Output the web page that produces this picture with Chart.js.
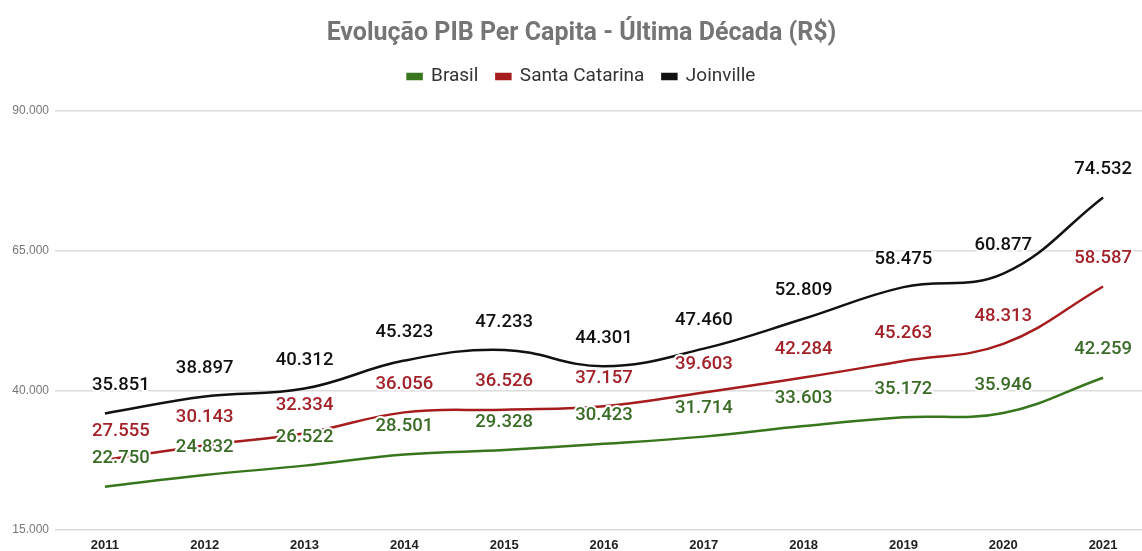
<!DOCTYPE html>
<html lang="pt-BR">
<head>
  <meta charset="UTF-8">
  <title>Evolução PIB Per Capita</title>
  <style>
    body { margin: 0; background: #fff; overflow: hidden; }
    #wrap { width: 1166px; height: 551px; }
  </style>
  <script src="https://cdn.jsdelivr.net/npm/chart.js"></script>
</head>
<body>
  <div id="wrap"><canvas id="pibChart" width="1166" height="551"></canvas></div>

  <script>
    const years = ['2011', '2012', '2013', '2014', '2015', '2016', '2017', '2018', '2019', '2020', '2021'];
    const brasil = [22750, 24832, 26522, 28501, 29328, 30423, 31714, 33603, 35172, 35946, 42259];
    const santaCatarina = [27555, 30143, 32334, 36056, 36526, 37157, 39603, 42284, 45263, 48313, 58587];
    const joinville = [35851, 38897, 40312, 45323, 47233, 44301, 47460, 52809, 58475, 60877, 74532];
    const yTicks = [15000, 40000, 65000, 90000];

    const fmt = v => String(v).replace(/\B(?=(\d{3})+(?!\d))/g, '.');

    // numbers above each point, with a white halo like the sheets export
    const valueLabels = {
      id: 'valueLabels',
      afterDatasetsDraw(chart) {
        const ctx = chart.ctx;
        ctx.save();
        ctx.font = '500 18.5px Roboto';
        ctx.textAlign = 'center';
        ctx.textBaseline = 'middle';
        ctx.lineJoin = 'round';
        chart.data.datasets.forEach((ds, i) => {
          chart.getDatasetMeta(i).data.forEach((pt, j) => {
            const txt = fmt(ds.data[j]);
            const w = ctx.measureText(txt).width;
            const x = Math.max(pt.x, chart.chartArea.left + 37 + w / 2);
            const y = pt.y - 28;
            ctx.lineWidth = 4;
            ctx.strokeStyle = '#fff';
            ctx.strokeText(txt, x, y);
            ctx.fillStyle = ds.labelColor;
            ctx.fillText(txt, x, y);
          });
        });
        ctx.restore();
      }
    };

    const legendGap = {
      id: 'legendGap',
      beforeInit(chart) {
        const fit = chart.legend.fit;
        chart.legend.fit = function () {
          fit.bind(chart.legend)();
          this.height += 15;
        };
      }
    };

    new Chart(document.getElementById('pibChart'), {
      type: 'line',
      data: {
        labels: years,
        datasets: [
          { label: 'Brasil', data: brasil, borderColor: '#38761d', backgroundColor: '#38761d', labelColor: '#3a6b27' },
          { label: 'Santa Catarina', data: santaCatarina, borderColor: '#a61c1c', backgroundColor: '#a61c1c', labelColor: '#a3222a' },
          { label: 'Joinville', data: joinville, borderColor: '#111', backgroundColor: '#111', labelColor: '#111' }
        ]
      },
      options: {
        responsive: false,
        devicePixelRatio: 1,
        animation: false,
        layout: { padding: { left: 10, right: 13, top: 0, bottom: 0 } },
        elements: {
          line: { borderWidth: 2.5, tension: 0.4 },
          point: { radius: 0, hoverRadius: 0 }
        },
        plugins: {
          title: {
            display: true,
            text: 'Evolução PIB Per Capita - Última Década (R$)',
            color: '#757575',
            font: { family: 'Roboto', size: 25, weight: 'bold' },
            padding: { top: 19, bottom: 0 }
          },
          legend: {
            labels: {
              boxWidth: 14,
              boxHeight: 5,
              padding: 18,
              color: '#333',
              font: { family: 'Roboto', size: 19 }
            }
          },
          tooltip: { enabled: false }
        },
        scales: {
          x: {
            offset: true,
            grid: { display: false, drawTicks: false },
            border: { display: false },
            ticks: { color: '#222', padding: 8, font: { family: 'Liberation Sans', size: 13, weight: 'bold' } },
            afterFit: s => { s.height = 21; }
          },
          y: {
            min: yTicks[0],
            max: yTicks[yTicks.length - 1],
            afterBuildTicks: s => { s.ticks = yTicks.map(v => ({ value: v })); },
            grid: { color: '#dcdcdc', lineWidth: 1.5, drawTicks: false },
            border: { display: false },
            ticks: { color: '#777', padding: 6, font: { family: 'Liberation Sans', size: 12 }, callback: v => fmt(v) },
            afterFit: s => { s.width = 45; }
          }
        }
      },
      plugins: [valueLabels, legendGap]
    });
  </script>
</body>
</html>
